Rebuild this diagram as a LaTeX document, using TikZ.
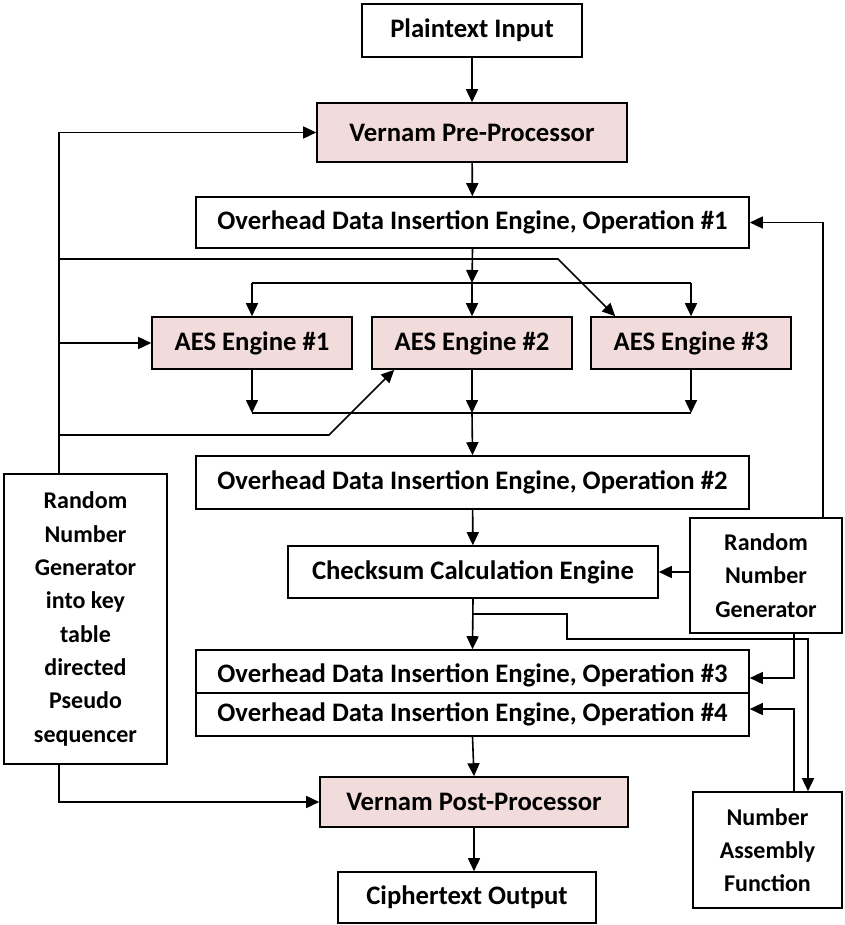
\documentclass[tikz,border=0pt]{standalone}
\usepackage{fontspec}
\setmainfont{Carlito}
\usetikzlibrary{arrows.meta,calc}
\definecolor{pinkfill}{HTML}{F2DCDB}
\begin{document}
\begin{tikzpicture}[x=1pt,y=-1pt,
  box/.style={draw, line width=1.6pt, inner sep=0pt, font=\fontsize{26.7}{33.3}\selectfont\bfseries, align=center},
  sidebox/.style={box, font=\fontsize{24}{33.3}\selectfont\bfseries},
  pinkbox/.style={box, fill=pinkfill},
  conn/.style={line width=1.6pt},
  arr/.style={conn, -{Triangle[length=13pt,width=12pt]}},
]
\useasboundingbox (0,0) rectangle (844,925);
% nodes
\node[box, minimum width=220, minimum height=53] (plain) at (472,30.5) {Plaintext Input};
\node[pinkbox, minimum width=310, minimum height=59] (vpre) at (472,132.5) {Vernam Pre-Processor};
\node[box, minimum width=553, minimum height=51] (oh1) at (472.5,222.5) {Overhead Data Insertion Engine, Operation \#1};
\node[pinkbox, minimum width=200, minimum height=52] (aes1) at (252,343) {AES Engine \#1};
\node[pinkbox, minimum width=200, minimum height=52] (aes2) at (472,343) {AES Engine \#2};
\node[pinkbox, minimum width=200, minimum height=52] (aes3) at (691,343) {AES Engine \#3};
\node[box, minimum width=553, minimum height=53] (oh2) at (472.5,482.5) {Overhead Data Insertion Engine, Operation \#2};
\node[box, minimum width=370, minimum height=52] (chk) at (473,572) {Checksum Calculation Engine};
\node[sidebox, minimum width=152, minimum height=115] (rngR) at (766,575.5) {Random\\Number\\Generator};
\node[box, minimum width=553, minimum height=43] (oh3) at (472.5,671.5) {\raisebox{-11pt}[0pt][0pt]{Overhead Data Insertion Engine, Operation \#3}};
\node[box, minimum width=553, minimum height=43] (oh4) at (472.5,714.5) {Overhead Data Insertion Engine, Operation \#4};
\node[pinkbox, minimum width=308, minimum height=50] (vpost) at (474,802) {Vernam Post-Processor};
\node[box, minimum width=258, minimum height=51] (ciph) at (467,897.5) {Ciphertext Output};
\node[sidebox, minimum width=163, minimum height=290] (rngL) at (85.5,619) {Random\\Number\\Generator\\into key\\table\\directed\\Pseudo\\sequencer};
\node[sidebox, minimum width=149, minimum height=116] (na) at (767.5,850) {Number\\Assembly\\Function};
% helper coordinates
\coordinate (kx) at (59,0);
\coordinate (rx) at (823,0);
\coordinate (dx) at (794,0);
\coordinate (ex) at (808,0);
\coordinate (b1) at (252,283);
\coordinate (b2) at (472,283);
\coordinate (b3) at (691,283);
\coordinate (m1) at (252,413);
\coordinate (m2) at (472,413);
\coordinate (m3) at (691,413);
\coordinate (k1) at (59,259);
\coordinate (k1b) at (558,259);
\coordinate (k2) at (59,435);
\coordinate (k2b) at (329,435);
\coordinate (c1) at (472,614);
\coordinate (c2) at (567,614);
\coordinate (c3) at (567,639);
\coordinate (c4) at (808,639);
% main column
\draw[arr] (plain) -- (vpre);
\draw[arr] (vpre) -- (oh1);
\draw[arr] (oh1.south) -- (b2);
\draw[conn] (b1) -- (b3);
\draw[arr] (b1) -- (aes1.north);
\draw[arr] (b2) -- (aes2.north);
\draw[arr] (b3) -- (aes3.north);
\draw[arr] (aes1.south) -- (m1);
\draw[arr] (aes2.south) -- (m2);
\draw[arr] (aes3.south) -- (m3);
\draw[conn] (m1) -- (m3);
\draw[arr] (m2) -- (oh2.north);
\draw[arr] (oh2) -- (chk);
\draw[arr] (chk.south) -- (oh3.north);
\draw[arr] (oh4.south) -- (vpost.north);
\draw[arr] (vpost.south) -- (vpost.south |- ciph.north);
% left key generator
\draw[arr] (kx |- rngL.north) -- (kx |- vpre.west) -- (vpre.west);
\draw[arr] (k1) -- (k1b) -- ($(aes3.north west)+(25,0)$);
\draw[arr] (kx |- aes1.west) -- (aes1.west);
\draw[arr] (k2) -- (k2b) -- ($(aes2.south west)+(23,0)$);
\draw[arr] (kx |- rngL.south) -- (kx |- vpost.west) -- (vpost.west);
% right random number generator
\draw[arr] (rx |- rngR.north) -- (rx |- oh1.east) -- (oh1.east);
\draw[arr] (rngR.west |- chk.east) -- (chk.east);
\draw[arr] (dx |- rngR.south) -- ($(dx |- oh3.east)+(0,6.5)$) -- ($(oh3.east)+(0,6.5)$);
\draw[arr] (c1) -- (c2) -- (c3) -- (c4) -- (ex |- na.north);
\draw[arr] (dx |- na.north) -- ($(dx |- oh4.east)+(0,-5.5)$) -- ($(oh4.east)+(0,-5.5)$);
\end{tikzpicture}
\end{document}
